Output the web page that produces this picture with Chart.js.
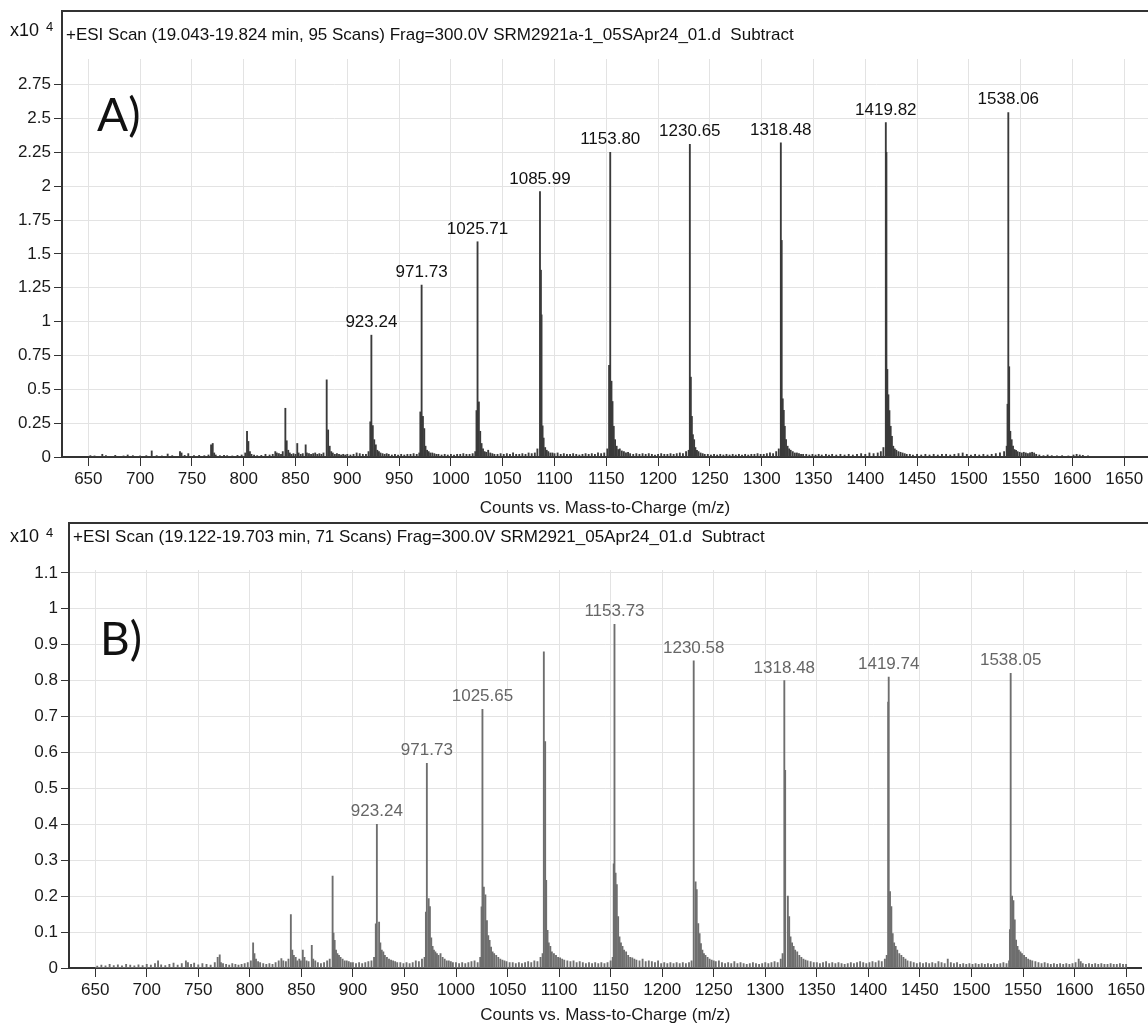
<!DOCTYPE html>
<html><head><meta charset="utf-8">
<script src="https://cdn.jsdelivr.net/npm/chart.js@4.4.1/dist/chart.umd.min.js"></script>
<style>
html,body{margin:0;padding:0;background:#fff;}
#wrap{position:relative;width:1148px;height:1032px;overflow:hidden;}
canvas{position:absolute;left:0;}
#cA{top:0}
#cB{top:516px}
</style></head><body>
<div id="wrap"><canvas id="cA" width="1148" height="516"></canvas><canvas id="cB" width="1148" height="516"></canvas></div>
<script>
// ---------------- data ----------------
const X_TICKS = [650,700,750,800,850,900,950,1000,1050,1100,1150,1200,1250,1300,1350,1400,1450,1500,1550,1600,1650];
const Y_TICKS_A = [0,0.25,0.5,0.75,1,1.25,1.5,1.75,2,2.25,2.5,2.75];
const Y_TICKS_B = [0,0.1,0.2,0.3,0.4,0.5,0.6,0.7,0.8,0.9,1,1.1];
const SCAN_RANGE = [650,1650];

const TITLE_A = '+ESI Scan (19.043-19.824 min, 95 Scans) Frag=300.0V SRM2921a-1_05SApr24_01.d  Subtract';
const TITLE_B = '+ESI Scan (19.122-19.703 min, 71 Scans) Frag=300.0V SRM2921_05Apr24_01.d  Subtract';
const X_TITLE = 'Counts vs. Mass-to-Charge (m/z)';

// [m/z, counts x10^4]
const SPECTRUM_A = [
[652,0.01],[656,0.008],[663.5,0.02],[667,0.01],[676,0.012],[684,0.008],[688,0.015],[693,0.01],[700,0.008],[706,0.01],[711.2,0.045],[716,0.01],[721,0.008],[726.6,0.022],[731,0.01],[738.5,0.04],[740,0.03],[743,0.012],[746.5,0.025],[752,0.01],[757,0.012],[762,0.01],[766,0.015],
[768.5,0.09],[770.1,0.10],[771.5,0.03],[773,0.015],[777,0.01],[781,0.012],[784,0.01],[789,0.008],[794,0.012],[798,0.015],
[801.5,0.03],[803.2,0.19],[804.5,0.115],[806,0.04],[807.5,0.02],[810,0.015],[813,0.01],[817,0.012],[821,0.02],[825,0.015],[828,0.02],[830.5,0.04],[832,0.03],[834,0.025],[836,0.02],[837.7,0.04],
[840.2,0.36],[841.5,0.12],[843,0.05],[844.5,0.03],[846,0.02],[848,0.025],[850,0.02],[851.7,0.10],[853,0.03],[855,0.02],[857,0.025],[859.8,0.09],[861,0.03],[863,0.025],[865,0.02],[867,0.025],[869,0.03],[871,0.02],[873,0.025],[875,0.02],[877,0.03],
[880.1,0.57],[881.5,0.2],[883,0.08],[884.5,0.04],[886,0.03],[888,0.02],[890,0.025],[892,0.02],[894,0.015],[896,0.02],[898,0.015],[900,0.02],[903,0.015],[906,0.02],[909,0.03],[912,0.025],[915,0.02],[918,0.02],[920.5,0.04],
[922.2,0.26],[923.24,0.90],[924.6,0.232],[926,0.128],[927.5,0.09],[929,0.05],[930.5,0.04],[932,0.03],[934,0.025],[936,0.02],[938,0.025],[940,0.02],[943,0.015],[946,0.02],[949,0.015],[952,0.02],[955,0.015],[958,0.02],[961,0.02],[964,0.025],[967,0.02],[969.5,0.03],
[970.5,0.333],[971.73,1.27],[973,0.30],[974.3,0.21],[975.5,0.08],[977,0.05],[978.5,0.04],[980,0.03],[982,0.03],[984,0.025],[986,0.02],[988,0.02],[991,0.015],[994,0.02],[997,0.015],[1000,0.02],[1003,0.015],[1006,0.02],[1009,0.02],[1012,0.025],[1015,0.02],[1018,0.02],[1021,0.025],[1023.5,0.04],
[1024.7,0.343],[1025.71,1.59],[1027,0.407],[1028.3,0.19],[1029.6,0.10],[1031,0.06],[1032.5,0.04],[1034,0.035],[1036,0.05],[1038,0.03],[1040,0.025],[1042,0.02],[1045,0.02],[1048,0.025],[1051,0.02],[1054,0.025],[1057,0.02],[1060,0.03],[1063,0.02],[1066,0.02],[1069,0.025],[1072,0.02],[1075,0.03],[1078,0.025],[1081,0.03],[1083.5,0.06],
[1085.99,1.96],[1086.9,1.38],[1087.5,1.05],[1088.5,0.23],[1089.5,0.14],[1091,0.07],[1092.5,0.05],[1094,0.04],[1096,0.03],[1098,0.03],[1100,0.025],[1103,0.03],[1106,0.02],[1109,0.025],[1112,0.02],[1115,0.02],[1118,0.025],[1121,0.02],[1124,0.015],[1127,0.02],[1130,0.025],[1133,0.02],[1136,0.025],[1139,0.02],[1142,0.03],[1145,0.025],[1148,0.03],[1151,0.06],
[1152.7,0.677],[1153.8,2.25],[1155,0.56],[1156,0.41],[1157.2,0.227],[1158.5,0.128],[1160,0.08],[1161.5,0.055],[1163,0.06],[1165,0.045],[1167,0.04],[1169,0.03],[1171,0.035],[1173,0.025],[1176,0.02],[1179,0.025],[1182,0.02],[1185,0.025],[1188,0.02],[1191,0.025],[1194,0.02],[1197,0.015],[1200,0.02],[1203,0.025],[1206,0.02],[1209,0.02],[1212,0.025],[1215,0.02],[1218,0.025],[1221,0.03],[1224,0.025],[1227,0.04],
[1229.5,0.05],[1230.65,2.31],[1231.6,0.59],[1232.6,0.30],[1233.6,0.165],[1234.8,0.128],[1236,0.07],[1237.5,0.05],[1239,0.04],[1241,0.03],[1243,0.025],[1245,0.02],[1248,0.02],[1251,0.015],[1254,0.02],[1257,0.015],[1260,0.02],[1263,0.015],[1266,0.02],[1269,0.015],[1272,0.02],[1275,0.015],[1278,0.02],[1281,0.015],[1284,0.02],[1287,0.015],[1290,0.02],[1293,0.02],[1296,0.025],[1299,0.02],[1302,0.02],[1305,0.025],[1308,0.03],[1311,0.025],[1314,0.04],[1316.5,0.06],
[1318.48,2.32],[1319.3,1.60],[1320.3,0.43],[1321.3,0.345],[1322.3,0.227],[1323.5,0.128],[1325,0.08],[1326.5,0.06],[1328,0.05],[1330,0.04],[1332,0.03],[1334,0.03],[1336,0.025],[1338,0.02],[1340,0.02],[1343,0.02],[1346,0.015],[1349,0.02],[1352,0.015],[1355,0.02],[1358,0.015],[1362,0.02],[1365,0.015],[1368,0.02],[1372,0.015],[1376,0.02],[1380,0.015],[1384,0.02],[1388,0.015],[1392,0.02],[1396,0.025],[1400,0.02],[1404,0.03],[1408,0.025],[1412,0.03],[1415,0.04],[1417.5,0.07],
[1419.82,2.47],[1420.4,2.25],[1421.3,0.647],[1422.3,0.46],[1423.3,0.343],[1424.5,0.227],[1425.7,0.153],[1427,0.08],[1428.5,0.06],[1430,0.05],[1432,0.04],[1434,0.035],[1436,0.03],[1438,0.025],[1440,0.02],[1443,0.02],[1446,0.015],[1450,0.02],[1454,0.015],[1458,0.02],[1462,0.015],[1466,0.02],[1470,0.015],[1474,0.02],[1478,0.02],[1482,0.015],[1486,0.02],[1490,0.025],[1494,0.03],[1498,0.02],[1502,0.015],[1506,0.02],[1510,0.015],[1514,0.02],[1518,0.015],[1522,0.02],[1526,0.025],[1530,0.03],[1534,0.04],[1536.5,0.08],
[1537.3,0.39],[1538.06,2.545],[1538.9,0.667],[1540,0.19],[1541.3,0.128],[1542.6,0.08],[1544,0.055],[1545.5,0.05],[1547,0.04],[1549,0.035],[1551,0.03],[1553,0.035],[1555,0.03],[1557,0.025],[1559,0.03],[1561,0.035],[1563,0.03],[1565,0.02],[1568,0.015],[1572,0.01],[1576,0.015],[1580,0.01],[1585,0.008],[1590,0.01],[1596,0.008],[1601,0.015],[1604,0.02],[1607,0.015],[1610,0.012],[1615,0.008],[1620,0.005]
];

const SPECTRUM_B = [
[652,0.005],[656,0.008],[660,0.006],[664,0.01],[668,0.007],[672,0.009],[676,0.006],[680,0.01],[684,0.008],[688,0.006],[692,0.009],[696,0.007],[700,0.01],[704,0.008],[708,0.012],[711,0.02],[714,0.009],[718,0.007],[722,0.01],[726,0.014],[730,0.008],[734,0.012],[738,0.02],[740,0.015],[743,0.01],[746,0.014],[750,0.009],[754,0.012],[758,0.01],[762,0.008],[766,0.015],
[768.8,0.03],[770.8,0.037],[772,0.015],[774,0.012],[777,0.01],[780,0.008],[783,0.012],[786,0.01],[789,0.008],[792,0.01],[795,0.012],[798,0.015],[801,0.02],
[803.2,0.07],[804.5,0.04],[806,0.025],[808,0.018],[810,0.015],[813,0.012],[816,0.01],[819,0.012],[822,0.01],[825,0.015],[828,0.02],[830.6,0.026],[832.5,0.02],[835,0.018],[837.5,0.025],
[839.8,0.149],[841.2,0.05],[842.7,0.035],[844.5,0.03],[846,0.02],[848,0.025],[849.5,0.02],[851.4,0.05],[853,0.03],[855,0.02],[857,0.018],[860.1,0.063],[861.5,0.025],[863.5,0.02],[866,0.015],[869,0.012],[872,0.015],[875,0.02],[877.5,0.025],
[880.3,0.256],[881.2,0.097],[882.3,0.077],[883.6,0.05],[885,0.04],[886.5,0.035],[888,0.03],[890,0.025],[892,0.02],[894,0.02],[896,0.018],[898,0.015],[900,0.015],[903,0.012],[906,0.015],[909,0.012],[912,0.015],[915,0.018],[918,0.02],[920.5,0.03],
[922.2,0.123],[923.24,0.40],[925.4,0.128],[926.6,0.07],[928,0.05],[929.5,0.045],[931,0.035],[933,0.03],[935,0.025],[937,0.022],[939,0.02],[941,0.018],[943,0.015],[946,0.015],[949,0.012],[952,0.015],[955,0.012],[958,0.015],[961,0.02],[964,0.018],[967,0.025],[969.5,0.03],
[970.8,0.156],[971.73,0.57],[973.5,0.193],[974.7,0.171],[976,0.084],[977.3,0.06],[978.6,0.05],[980,0.045],[981.5,0.04],[983,0.035],[985,0.04],[987,0.03],[989,0.025],[991,0.02],[993,0.02],[995,0.018],[997,0.015],[1000,0.015],[1003,0.012],[1006,0.015],[1009,0.012],[1012,0.015],[1015,0.018],[1018,0.02],[1021,0.015],[1023.5,0.03],
[1024.8,0.17],[1025.65,0.72],[1027,0.225],[1028.5,0.204],[1030,0.132],[1031.3,0.09],[1032.6,0.077],[1034,0.058],[1035.5,0.045],[1037,0.04],[1039,0.035],[1041,0.03],[1043,0.025],[1045,0.022],[1047,0.02],[1049,0.018],[1052,0.015],[1055,0.015],[1058,0.012],[1061,0.015],[1064,0.012],[1067,0.015],[1070,0.018],[1073,0.015],[1076,0.02],[1079,0.018],[1082,0.03],[1084,0.04],
[1085.2,0.88],[1086.5,0.63],[1087.5,0.244],[1088.8,0.105],[1090,0.07],[1091.5,0.06],[1093,0.045],[1095,0.04],[1097,0.035],[1099,0.03],[1101,0.028],[1103,0.025],[1105,0.022],[1108,0.02],[1111,0.018],[1114,0.02],[1117,0.015],[1120,0.018],[1123,0.015],[1126,0.012],[1129,0.015],[1132,0.012],[1135,0.015],[1138,0.012],[1141,0.015],[1144,0.012],[1147,0.015],[1150,0.02],[1152,0.03],
[1153.0,0.29],[1153.73,0.957],[1154.8,0.264],[1156,0.232],[1157.3,0.143],[1158.6,0.087],[1160,0.07],[1161.5,0.06],[1163,0.05],[1165,0.045],[1167,0.035],[1169,0.03],[1171,0.028],[1173,0.025],[1175,0.022],[1178,0.02],[1181,0.025],[1184,0.018],[1187,0.02],[1190,0.018],[1193,0.015],[1196,0.02],[1199,0.012],[1202,0.015],[1205,0.012],[1208,0.015],[1211,0.012],[1214,0.015],[1217,0.012],[1220,0.015],[1223,0.012],[1226,0.015],[1228.5,0.02],
[1230.58,0.855],[1232.4,0.24],[1233.5,0.218],[1235,0.124],[1236.3,0.096],[1237.6,0.068],[1239,0.05],[1240.5,0.04],[1242,0.035],[1244,0.03],[1246,0.025],[1248,0.022],[1250,0.02],[1252,0.018],[1255,0.02],[1258,0.015],[1261,0.012],[1264,0.015],[1267,0.012],[1270,0.018],[1273,0.012],[1276,0.015],[1279,0.012],[1282,0.01],[1285,0.012],[1288,0.015],[1291,0.012],[1294,0.01],[1297,0.012],[1300,0.015],[1303,0.012],[1306,0.015],[1309,0.018],[1312,0.015],[1315,0.025],[1316.8,0.04],
[1318.48,0.80],[1319.3,0.55],[1321.9,0.2],[1323.2,0.143],[1324.5,0.087],[1326,0.07],[1327.5,0.06],[1329,0.05],[1331,0.045],[1333,0.035],[1335,0.03],[1337,0.025],[1339,0.022],[1341,0.02],[1344,0.018],[1347,0.015],[1350,0.015],[1353,0.012],[1356,0.015],[1359,0.018],[1362,0.012],[1365,0.015],[1368,0.012],[1371,0.015],[1374,0.012],[1377,0.01],[1380,0.012],[1383,0.015],[1386,0.012],[1389,0.015],[1392,0.018],[1395,0.015],[1398,0.012],[1401,0.015],[1404,0.018],[1407,0.015],[1410,0.02],[1413,0.018],[1416,0.025],[1417.8,0.035],
[1419.2,0.74],[1419.74,0.81],[1421,0.213],[1422.3,0.171],[1423.6,0.096],[1425,0.07],[1426.5,0.06],[1428,0.05],[1430,0.04],[1432,0.035],[1434,0.03],[1436,0.025],[1438,0.02],[1441,0.018],[1444,0.015],[1447,0.012],[1450,0.015],[1453,0.012],[1456,0.015],[1459,0.012],[1462,0.015],[1465,0.012],[1468,0.018],[1471,0.015],[1474,0.012],[1477,0.025],[1480,0.015],[1483,0.012],[1486,0.015],[1489,0.01],[1492,0.012],[1495,0.01],[1498,0.012],[1501,0.01],[1504,0.012],[1507,0.01],[1510,0.012],[1513,0.01],[1516,0.012],[1519,0.01],[1522,0.012],[1525,0.01],[1528,0.012],[1531,0.015],[1534,0.012],[1536.5,0.02],
[1537.3,0.107],[1538.05,0.82],[1539.4,0.2],[1540.7,0.188],[1542,0.134],[1543.3,0.078],[1544.7,0.06],[1546,0.05],[1547.5,0.045],[1549,0.04],[1551,0.035],[1553,0.03],[1555,0.025],[1557,0.022],[1559,0.02],[1562,0.018],[1565,0.015],[1568,0.012],[1571,0.015],[1574,0.012],[1577,0.01],[1580,0.012],[1583,0.01],[1586,0.012],[1589,0.01],[1592,0.012],[1595,0.01],[1598,0.012],[1601,0.015],[1604,0.025],[1606,0.018],[1608,0.012],[1611,0.01],[1614,0.012],[1617,0.01],[1620,0.012],[1623,0.01],[1626,0.012],[1629,0.01],[1632,0.01],[1635,0.012],[1638,0.01],[1641,0.01],[1644,0.012],[1647,0.01],[1650,0.01]
];

const PEAK_LABELS_A = ['923.24','971.73','1025.71','1085.99','1153.80','1230.65','1318.48','1419.82','1538.06'];
const PEAK_LABELS_B = ['923.24','971.73','1025.65','1153.73','1230.58','1318.48','1419.74','1538.05'];

// ---------------- drawing ----------------
const FONT = '"Liberation Sans", Arial, sans-serif';

function peakTop(spec, mz) {
  let m = 0;
  spec.forEach(p => { if (Math.abs(p[0] - mz) < 1.2 && p[1] > m) m = p[1]; });
  return m;
}

const decor = {
  id: 'panelDecor',
  afterDatasetsDraw(chart, args, o) {
    const ctx = chart.ctx, xs = chart.scales.x, ys = chart.scales.y;
    ctx.save();
    ctx.font = '17px ' + FONT;
    ctx.fillStyle = o.labelColor;
    ctx.textAlign = 'center';
    ctx.textBaseline = 'alphabetic';
    o.labels.forEach(t => {
      const mz = parseFloat(t);
      const h = peakTop(o.spectrum, mz);
      ctx.fillText(t, xs.getPixelForValue(mz), ys.getPixelForValue(h) - 8);
    });
    ctx.restore();
  },
  afterDraw(chart, args, o) {
    const ctx = chart.ctx, ca = chart.chartArea;
    ctx.save();
    ctx.strokeStyle = '#333';
    ctx.lineWidth = 2;
    ctx.beginPath();
    ctx.moveTo(ca.left, ca.top + 2);
    ctx.lineTo(ca.left, o.frameTop);
    ctx.lineTo(chart.width, o.frameTop);
    ctx.stroke();
    ctx.fillStyle = '#111';
    ctx.textBaseline = 'middle';
    ctx.textAlign = 'left';
    ctx.font = '17px ' + FONT;
    ctx.fillText(o.title, ca.left + 4, o.titleY);
    ctx.font = '18px ' + FONT;
    ctx.fillText('x10', 10, o.expY);
    ctx.font = '13px ' + FONT;
    ctx.fillText('4', 46, o.expY - 4);
    ctx.font = '46px Lato, "Open Sans", sans-serif';
    ctx.fillText(o.letter, o.letterX, o.letterY);
    ctx.restore();
  }
};

function makeChart(id, c) {
  return new Chart(document.getElementById(id), {
    type: 'bar',
    data: { datasets: [
      { type: 'line', data: SCAN_RANGE.map(x => ({x: x, y: 0})), borderColor: c.color, borderWidth: 2, pointRadius: 0, order: 0 },
      { type: 'bar', data: c.spectrum.map(p => ({x: p[0], y: p[1]})), backgroundColor: c.color, borderWidth: 0, barThickness: 1.2, order: 1 }
    ]},
    options: {
      responsive: false, animation: false, devicePixelRatio: 1,
      layout: { padding: { top: c.padTop, left: 0, right: 0, bottom: 0 } },
      plugins: {
        legend: { display: false }, tooltip: { enabled: false },
        panelDecor: { spectrum: c.spectrum, labels: c.labels, labelColor: c.labelColor, title: c.title,
          frameTop: c.frameTop, titleY: c.titleY, expY: c.expY, letter: c.letter, letterX: c.letterX, letterY: c.letterY }
      },
      scales: {
        x: {
          type: 'linear', min: 624.6, max: c.xmax, offset: false,
          afterBuildTicks: s => { s.ticks = X_TICKS.map(v => ({value: v})); },
          afterFit: s => { s.height = c.xAxisH; },
          grid: { color: '#e3e3e3', lineWidth: 1, tickLength: 9, tickColor: '#333', offset: false },
          border: { display: true, color: '#333', width: 2 },
          ticks: { font: { family: FONT, size: 17 }, color: '#1a1a1a', padding: 3, maxRotation: 0, autoSkip: false, callback: v => String(v) },
          title: { display: true, text: X_TITLE, font: { family: FONT, size: 17, lineHeight: 1 }, color: '#1a1a1a', padding: { top: 0, bottom: c.titlePad } }
        },
        y: {
          type: 'linear', min: 0, max: c.ymax,
          afterBuildTicks: s => { s.ticks = c.yTicks.map(v => ({value: v})); },
          afterFit: s => { s.width = c.yAxisW; },
          grid: { color: '#e3e3e3', lineWidth: 1, tickLength: 8, tickColor: '#333' },
          border: { display: true, color: '#333', width: 2 },
          ticks: { font: { family: FONT, size: 17 }, color: '#1a1a1a', padding: 3, autoSkip: false, callback: v => String(v) }
        }
      }
    },
    plugins: [decor]
  });
}

makeChart('cA', {
  spectrum: SPECTRUM_A, labels: PEAK_LABELS_A, labelColor: '#111', color: '#3a3a3a',
  title: TITLE_A, frameTop: 11, titleY: 35, expY: 31, letter: 'A)', letterX: 97, letterY: 116,
  padTop: 59, xmax: 1672.9, ymax: 2.94, yTicks: Y_TICKS_A, xAxisH: 59, yAxisW: 62, titlePad: -1
});
makeChart('cB', {
  spectrum: SPECTRUM_B, labels: PEAK_LABELS_B, labelColor: '#666', color: '#6e6e6e',
  title: TITLE_B, frameTop: 7, titleY: 21, expY: 21, letter: 'B)', letterX: 100, letterY: 124,
  padTop: 54, xmax: 1665.1, ymax: 1.108, yTicks: Y_TICKS_B, xAxisH: 64, yAxisW: 69, titlePad: 8
});
</script></body></html>
